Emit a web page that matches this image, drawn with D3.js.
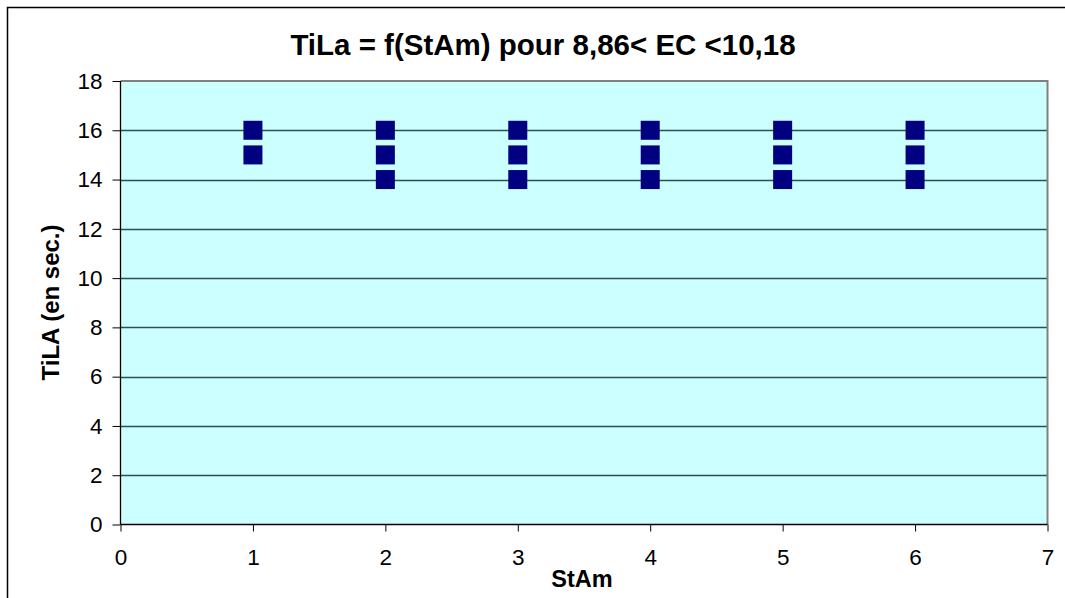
<!DOCTYPE html>
<html>
<head>
<meta charset="utf-8">
<script src="https://cdn.jsdelivr.net/npm/d3@7"></script>
<style>
  body { margin: 0; background: #fff; }
  svg { display: block; font-family: "Liberation Sans", Arial, sans-serif; }
</style>
</head>
<body>
<svg id="chart" width="1065" height="598"></svg>
<script>
// Observations: StAm level and measured TiLa time (seconds)
const stAm = [1, 1, 2, 2, 2, 3, 3, 3, 4, 4, 4, 5, 5, 5, 6, 6, 6];
const tiLa = [16, 15, 16, 15, 14, 16, 15, 14, 16, 15, 14, 16, 15, 14, 16, 15, 14];
const xTicks = [0, 1, 2, 3, 4, 5, 6, 7];
const yTicks = [0, 2, 4, 6, 8, 10, 12, 14, 16, 18];
const titleText = "TiLa = f(StAm) pour 8,86< EC <10,18";
const xLabel = "StAm";
const yLabel = "TiLA (en sec.)";

const svg = d3.select("#chart");
const plot = { left: 120.5, right: 1047.5, top: 81, bottom: 524.5 };

const x = d3.scaleLinear().domain([0, 7]).range([plot.left, plot.right]);
const y = d3.scaleLinear().domain([0, 18]).range([plot.bottom, plot.top]);

// Chart frame
svg.append("rect")
  .attr("x", 7.5).attr("y", 7.5)
  .attr("width", 1070).attr("height", 620)
  .attr("fill", "#fff").attr("stroke", "#000").attr("stroke-width", 1.5);

// Plot background
svg.append("rect")
  .attr("x", plot.left).attr("y", plot.top)
  .attr("width", plot.right - plot.left).attr("height", plot.bottom - plot.top)
  .attr("fill", "#ccffff");

// Horizontal gridlines
svg.append("g")
  .selectAll("line")
  .data(yTicks.filter(d => d > 0 && d < 18))
  .join("line")
  .attr("x1", plot.left).attr("x2", plot.right)
  .attr("y1", d => Math.round(y(d)) + 0.5).attr("y2", d => Math.round(y(d)) + 0.5)
  .attr("stroke", "#2f4f4f").attr("stroke-width", 1.3);

// Plot border (top and right)
svg.append("path")
  .attr("d", `M${plot.left},${plot.top}H${plot.right}V${plot.bottom}`)
  .attr("fill", "none").attr("stroke", "#808080").attr("stroke-width", 2);

// Axes
const xAxis = d3.axisBottom(x).tickValues(xTicks).tickSize(7).tickPadding(18).tickFormat(d3.format("d"));
const yAxis = d3.axisLeft(y).tickValues(yTicks).tickSize(8).tickPadding(10).tickFormat(d3.format("d"));

const gx = svg.append("g").attr("transform", `translate(0,${plot.bottom})`).call(xAxis);
const gy = svg.append("g").attr("transform", `translate(${plot.left},0)`).call(yAxis);

[gx, gy].forEach(g => {
  g.select(".domain").attr("stroke", "#000").attr("stroke-width", 1.3);
  g.selectAll(".tick line").attr("stroke", "#000");
  g.selectAll(".tick text")
    .attr("fill", "#000")
    .style("font-size", "22.5px")
    .style("font-family", "'Liberation Sans', Arial, sans-serif");
});
gx.select(".domain").attr("d", `M${plot.left},0H${plot.right}`);
gy.select(".domain").attr("d", `M0,${plot.bottom}V${plot.top}`);

// Data markers
const size = 19;
svg.append("g")
  .selectAll("rect")
  .data(stAm.map((d, i) => ({ sx: d, ty: tiLa[i] })))
  .join("rect")
  .attr("x", d => x(d.sx) - size / 2)
  .attr("y", d => y(d.ty) - size / 2)
  .attr("width", size).attr("height", size)
  .attr("fill", "#000080");

// Title
svg.append("text")
  .attr("x", 543).attr("y", 55)
  .attr("text-anchor", "middle")
  .style("font-size", "29.5px").style("font-weight", "bold")
  .text(titleText);

// Axis titles
svg.append("text")
  .attr("x", 582).attr("y", 587)
  .attr("text-anchor", "middle")
  .style("font-size", "23.5px").style("font-weight", "bold")
  .text(xLabel);

svg.append("text")
  .attr("transform", `translate(59,302.5) rotate(-90)`)
  .attr("text-anchor", "middle")
  .style("font-size", "24px").style("font-weight", "bold")
  .text(yLabel);
</script>
</body>
</html>
